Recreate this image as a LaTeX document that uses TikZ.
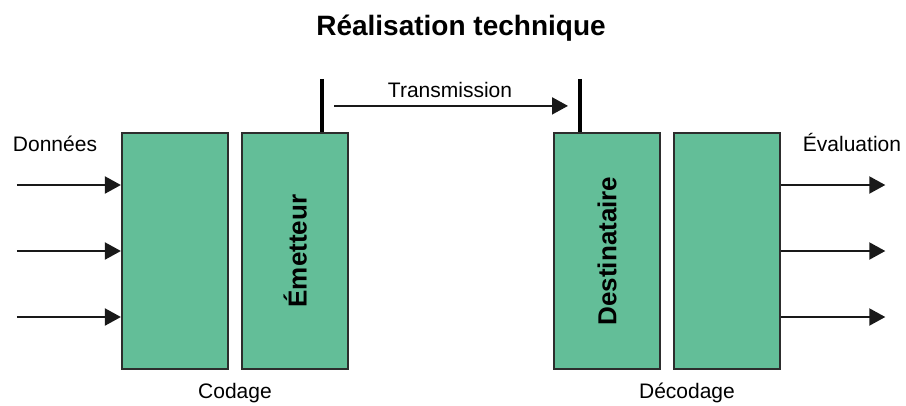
\documentclass[tikz,border=0pt]{standalone}
\usepackage{fontspec}
\setmainfont{Liberation Sans}
\usetikzlibrary{arrows.meta, positioning}
\definecolor{boxgreen}{RGB}{99,190,152}
\definecolor{boxline}{RGB}{45,45,45}
\definecolor{arrowdark}{RGB}{25,25,25}
\tikzset{
  block/.style={rectangle, draw=boxline, line width=2.2pt, fill=boxgreen, minimum width=106pt, minimum height=236pt, inner sep=0pt},
  vtext/.style={rotate=90, inner sep=0pt, font=\fontsize{26}{30}\selectfont\bfseries},
  txt/.style={inner sep=0pt, anchor=base, font=\fontsize{21}{25}\selectfont},
  arrow/.style={-{Triangle[length=16pt,width=17pt]}, line width=2pt, color=arrowdark},
  antenna/.style={line width=4pt, color=black},
}

\begin{document}
\begin{tikzpicture}[x=1pt, y=-1pt]
  \useasboundingbox (0,0) rectangle (906,405);
  \node[inner sep=0pt, font=\fontsize{28}{32}\selectfont\bfseries] (title) at (461,28) {Réalisation technique};

  % emission side
  \node[block] (codeur) at (175,251) {};
  \node[block, right=12pt of codeur] (emetteur) {};
  \node[vtext] (emetteurtxt) at (emetteur) {Émetteur};

  % reception side
  \node[block] (destinataire) at (607,251) {};
  \node[block, right=12pt of destinataire] (decodeur) {};
  \node[vtext] (destinatairetxt) at (destinataire) {Destinataire};

  % antennas
  \coordinate (antE) at ([xshift=27pt, yshift=53pt]emetteur.north);
  \coordinate (antD) at ([xshift=-27pt, yshift=53pt]destinataire.north);
  \draw[antenna] (antE) -- (antE |- emetteur.north);
  \draw[antenna] (antD) -- (antD |- destinataire.north);

  \coordinate (txstart) at ([shift={(12pt,-27pt)}]antE);
  \coordinate (txend) at ([shift={(-12pt,-27pt)}]antD);
  \draw[arrow] (txstart) -- (txend);
  \node[txt] (transmission) at (450,97) {Transmission};

  % inputs and outputs
  \foreach \i/\dy in {1/66, 2/0, 3/-66} {
    \coordinate (in\i) at ([xshift=-104pt, yshift=\dy pt]codeur.west);
    \draw[arrow] (in\i) -- (in\i -| codeur.west);
    \coordinate (out\i) at ([xshift=104pt, yshift=\dy pt]decodeur.east);
    \draw[arrow] (out\i -| decodeur.east) -- (out\i);
  }

  \node[txt] (donnees) at (55,151) {Données};
  \node[txt] (evaluation) at (852,151) {Évaluation};
  \node[txt] (codage) at (235,398) {Codage};
  \node[txt] (decodage) at (687,398) {Décodage};
\end{tikzpicture}
\end{document}
